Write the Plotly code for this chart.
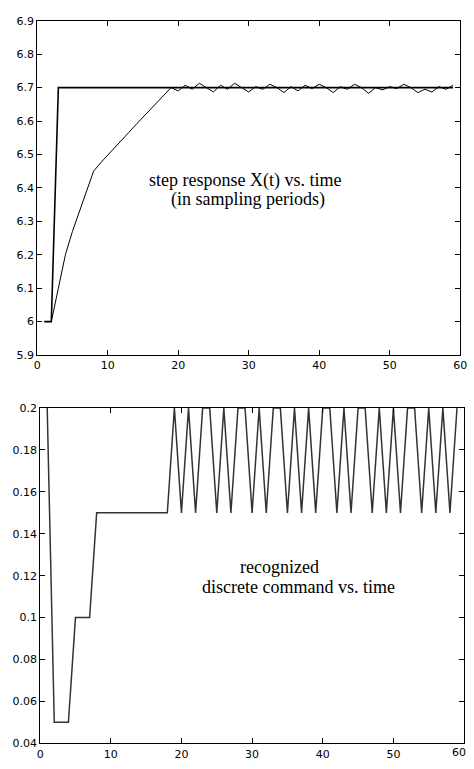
import plotly.graph_objects as go

# ---- data ----
t = list(range(1, 60))

reference = [6.0, 6.0] + [6.7] * 57

response = [6.000, 6.000, 6.100, 6.200, 6.270, 6.330, 6.390, 6.450, 6.475, 6.497,
            6.520, 6.543, 6.566, 6.589, 6.612, 6.634, 6.656, 6.678, 6.700, 6.690,
            6.707, 6.695, 6.713, 6.700, 6.687, 6.707, 6.695, 6.713, 6.700, 6.687,
            6.703, 6.695, 6.710, 6.700, 6.685, 6.703, 6.690, 6.707, 6.697, 6.710,
            6.700, 6.685, 6.703, 6.695, 6.710, 6.700, 6.683, 6.700, 6.693, 6.703,
            6.697, 6.710, 6.700, 6.685, 6.695, 6.687, 6.703, 6.695, 6.707]

command = [0.20, 0.05, 0.05, 0.05, 0.10, 0.10, 0.10, 0.15, 0.15, 0.15,
           0.15, 0.15, 0.15, 0.15, 0.15, 0.15, 0.15, 0.15, 0.20, 0.15,
           0.20, 0.15, 0.20, 0.20, 0.15, 0.20, 0.15, 0.20, 0.20, 0.15,
           0.20, 0.15, 0.20, 0.20, 0.15, 0.20, 0.15, 0.20, 0.15, 0.20,
           0.20, 0.15, 0.20, 0.15, 0.20, 0.20, 0.15, 0.20, 0.15, 0.20,
           0.15, 0.20, 0.20, 0.15, 0.20, 0.15, 0.20, 0.15, 0.20]

x_ticks = [0, 10, 20, 30, 40, 50, 60]
x_labels_top = ["0", "10", "20", "30", "40", "50", "60"]
x_labels_bottom = ["0", "10", "20", "30", "40", "50", ""]
y1_ticks = [5.9, 6.0, 6.1, 6.2, 6.3, 6.4, 6.5, 6.6, 6.7, 6.8, 6.9]
y1_labels = ["5.9", "6", "6.1", "6.2", "6.3", "6.4", "6.5", "6.6", "6.7", "6.8", "6.9"]
y2_ticks = [0.04, 0.06, 0.08, 0.10, 0.12, 0.14, 0.16, 0.18, 0.20]
y2_labels = ["0.04", "0.06", "0.08", "0.1", "0.12", "0.14", "0.16", "0.18", "0.2"]

W, H = 474, 769

fig = go.Figure()
fig.add_trace(go.Scatter(x=t, y=reference, mode="lines",
                         line=dict(color="black", width=1.6),
                         xaxis="x", yaxis="y", showlegend=False))
fig.add_trace(go.Scatter(x=t, y=response, mode="lines",
                         line=dict(color="black", width=1),
                         xaxis="x", yaxis="y", showlegend=False))
fig.add_trace(go.Scatter(x=t, y=command, mode="lines",
                         line=dict(color="#333333", width=1.5),
                         xaxis="x2", yaxis="y2", showlegend=False))

tickfont = dict(family="DejaVu Sans", size=11, color="black")
common = dict(showline=True, linecolor="black", linewidth=1, mirror="allticks",
              ticks="inside", ticklen=5, tickcolor="black", tickwidth=1,
              showgrid=False, zeroline=False, tickfont=tickfont, fixedrange=True,
              ticklabeloverflow="allow")

fig.update_layout(
    width=W, height=H,
    margin=dict(l=0, r=0, t=0, b=0),
    paper_bgcolor="white", plot_bgcolor="white",
    xaxis=dict(domain=[34 / W, 467 / W], range=[0, 60], tickvals=x_ticks,
               ticktext=x_labels_top, anchor="y", **common),
    yaxis=dict(domain=[1 - 355 / H, 1 - 15 / H], range=[5.9, 6.9], tickvals=y1_ticks,
               ticktext=y1_labels, anchor="x", **common),
    xaxis2=dict(domain=[37 / W, 471 / W], range=[0, 60], tickvals=x_ticks,
                ticktext=x_labels_bottom, anchor="y2", **common),
    yaxis2=dict(domain=[1 - 750 / H, 1 - 409 / H], range=[0.04, 0.2], tickvals=y2_ticks,
                ticktext=y2_labels, anchor="x2", **common),
)

serif = dict(family="Liberation Serif", size=18, color="black")
notes = [
    ("step response X(t) vs. time", 247, 177),
    ("(in sampling periods)", 250, 197),
    ("recognized", 282, 571),
    ("discrete command vs. time", 301, 591),
]
for txt, px, py in notes:
    fig.add_annotation(text=txt, x=px / W, y=1 - py / H, xref="paper", yref="paper",
                       xanchor="center", yanchor="middle", showarrow=False, font=serif)

# last x tick label of the lower axis, kept inside the page
fig.add_annotation(text="60", x=1, y=1 - 752 / H, xref="paper", yref="paper",
                   xanchor="right", yanchor="top", showarrow=False, font=tickfont,
                   borderpad=0)

fig.write_html("out.html",
               config={"displayModeBar": False},
               post_script="document.body.style.margin='0';"
                           "document.body.style.overflow='hidden';")
